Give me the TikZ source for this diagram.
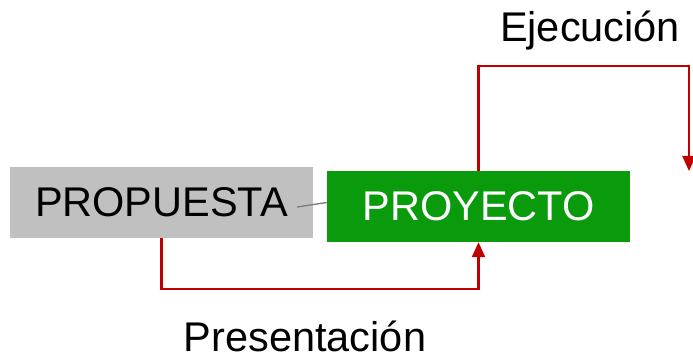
\documentclass[tikz,border=0pt]{standalone}
\usepackage{fontspec}
\setmainfont{Liberation Sans}
\usetikzlibrary{arrows.meta}
\definecolor{boxgrey}{RGB}{192,192,192}
\definecolor{boxgreen}{RGB}{10,155,12}
\definecolor{linkred}{RGB}{192,0,0}

\begin{document}
\begin{tikzpicture}[x=1pt,y=-1pt,
    every node/.style={font=\fontsize{41.5}{50}\selectfont},
    block/.style={rectangle,minimum width=303pt,minimum height=71pt,inner sep=0pt},
    tag/.style={anchor=base,inner sep=0pt},
    redlink/.style={draw=linkred,line width=2.2pt,
      -{Triangle[length=15pt,width=13pt]}}]
      \useasboundingbox (0, 0) rectangle (693, 358);

      \node[block,fill=boxgrey] (propuesta) at (161.5, 202.5) {PROPUESTA};
      \node[block,fill=boxgreen,text=white] (proyecto) at (478.5, 206.5)
        {PROYECTO};

      \coordinate (grey end) at (297, 207);
      \draw[gray,line width=1.4pt] (grey end) -- ([yshift=4pt]proyecto.west);

      \coordinate (ejec end) at (689, 171);
      \draw[redlink] (proyecto.north) -- (478.5, 66) -| (ejec end);
      \node[tag] (ejecucion) at (590, 42) {Ejecuci\'on};

      \draw[redlink] (propuesta.south) -- ++(0, 51) -| (proyecto.south);
      \node[tag] (presentacion) at (305, 351) {Presentaci\'on};
    \end{tikzpicture}
\end{document}
